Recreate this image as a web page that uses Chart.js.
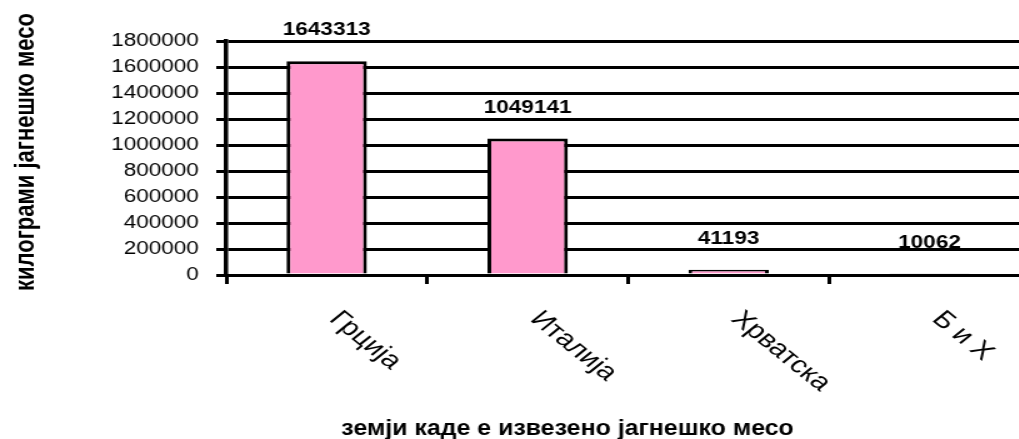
<!DOCTYPE html>
<html lang="mk">
<head>
<meta charset="utf-8">
<title>Извоз на јагнешко месо</title>
<script src="https://cdn.jsdelivr.net/npm/chart.js@4.4.1/dist/chart.umd.min.js"></script>
<style>
  html, body { margin: 0; padding: 0; background: #fff; overflow: hidden; }
  #wrap { width: 1019px; height: 439px; overflow: hidden; }
  /* the source picture is stretched sideways, so the canvas is too */
  #chart { display: block; width: 830px; height: 439px; transform: scaleX(1.25); transform-origin: 0 0; }
</style>
</head>
<body>
<div id="wrap"><canvas id="chart" width="830" height="439"></canvas></div>
<script>
// ---------- data ----------
const countries = ["Грција", "Италија", "Хрватска", "Б и Х"];
const kilograms = [1643313, 1049141, 41193, 10062];
const yTicks = [0, 200000, 400000, 600000, 800000, 1000000, 1200000, 1400000, 1600000, 1800000];
const yTitle = "килограми јагнешко месо";
const xTitle = "земји каде е извезено јагнешко месо";

const FONT = '"Liberation Sans", Arial, sans-serif';

// ---------- text drawn by hand ----------
const textPlugin = {
  id: "texts",
  beforeDraw(chart) {
    // value labels go under the grid lines, as in the source
    const ctx = chart.ctx;
    const meta = chart.getDatasetMeta(0);
    ctx.save();
    ctx.font = "bold 18px " + FONT;
    ctx.fillStyle = "#000";
    ctx.textAlign = "center";
    ctx.textBaseline = "alphabetic";
    meta.data.forEach((bar, i) => {
      ctx.fillText(String(kilograms[i]), bar.x, bar.y - 26);
    });
    ctx.restore();
  },
  afterDraw(chart) {
    const ctx = chart.ctx;
    const xs = chart.scales.x;
    ctx.save();
    ctx.fillStyle = "#000";
    ctx.textBaseline = "alphabetic";

    // category labels, turned 45 deg clockwise
    ctx.font = "24px " + FONT;
    ctx.textAlign = "left";
    countries.forEach((name, i) => {
      const cx = xs.getPixelForValue(i);
      ctx.save();
      ctx.translate(cx + 1, 320);
      ctx.rotate(Math.PI / 4);
      ctx.fillText(name, 0, 0);
      ctx.restore();
    });

    // y title
    ctx.font = "bold 22px " + FONT;
    ctx.textAlign = "center";
    ctx.save();
    ctx.translate(27, 152);
    ctx.rotate(-Math.PI / 2);
    ctx.fillText(yTitle, 0, 0);
    ctx.restore();

    // x title
    const w = ctx.measureText(xTitle).width;
    ctx.save();
    ctx.translate(454, 435);
    ctx.scale(362 / w, 1);
    ctx.fillText(xTitle, 0, 0);
    ctx.restore();

    ctx.restore();
  },
};

// ---------- chart ----------
new Chart(document.getElementById("chart"), {
  type: "bar",
  data: {
    labels: countries,
    datasets: [{
      data: kilograms,
      backgroundColor: "#FF99CC",
      borderColor: "#000",
      borderWidth: 3,
      categoryPercentage: 1,
      barPercentage: 0.4,
    }],
  },
  options: {
    responsive: false,
    animation: false,
    layout: { padding: { top: 41, right: 6, left: 0, bottom: 0 } },
    plugins: { legend: { display: false }, tooltip: { enabled: false } },
    scales: {
      x: {
        offset: true,
        grid: { offset: true, drawOnChartArea: false, color: "#000", lineWidth: 3, tickLength: 9 },
        border: { color: "#000", width: 3 },
        ticks: { display: false },
        afterFit: (s) => { s.height = 164; },
      },
      y: {
        min: 0,
        max: 1800000,
        afterBuildTicks: (s) => { s.ticks = yTicks.map((v) => ({ value: v })); },
        grid: { color: "#000", lineWidth: 3, tickLength: 8 },
        border: { color: "#000", width: 3.5 },
        ticks: {
          color: "#000",
          font: { family: FONT, size: 18 },
          padding: 14,
          callback: (v) => String(v),
        },
        afterFit: (s) => { s.width = 181; },
      },
    },
  },
  plugins: [textPlugin],
});
</script>
</body>
</html>
